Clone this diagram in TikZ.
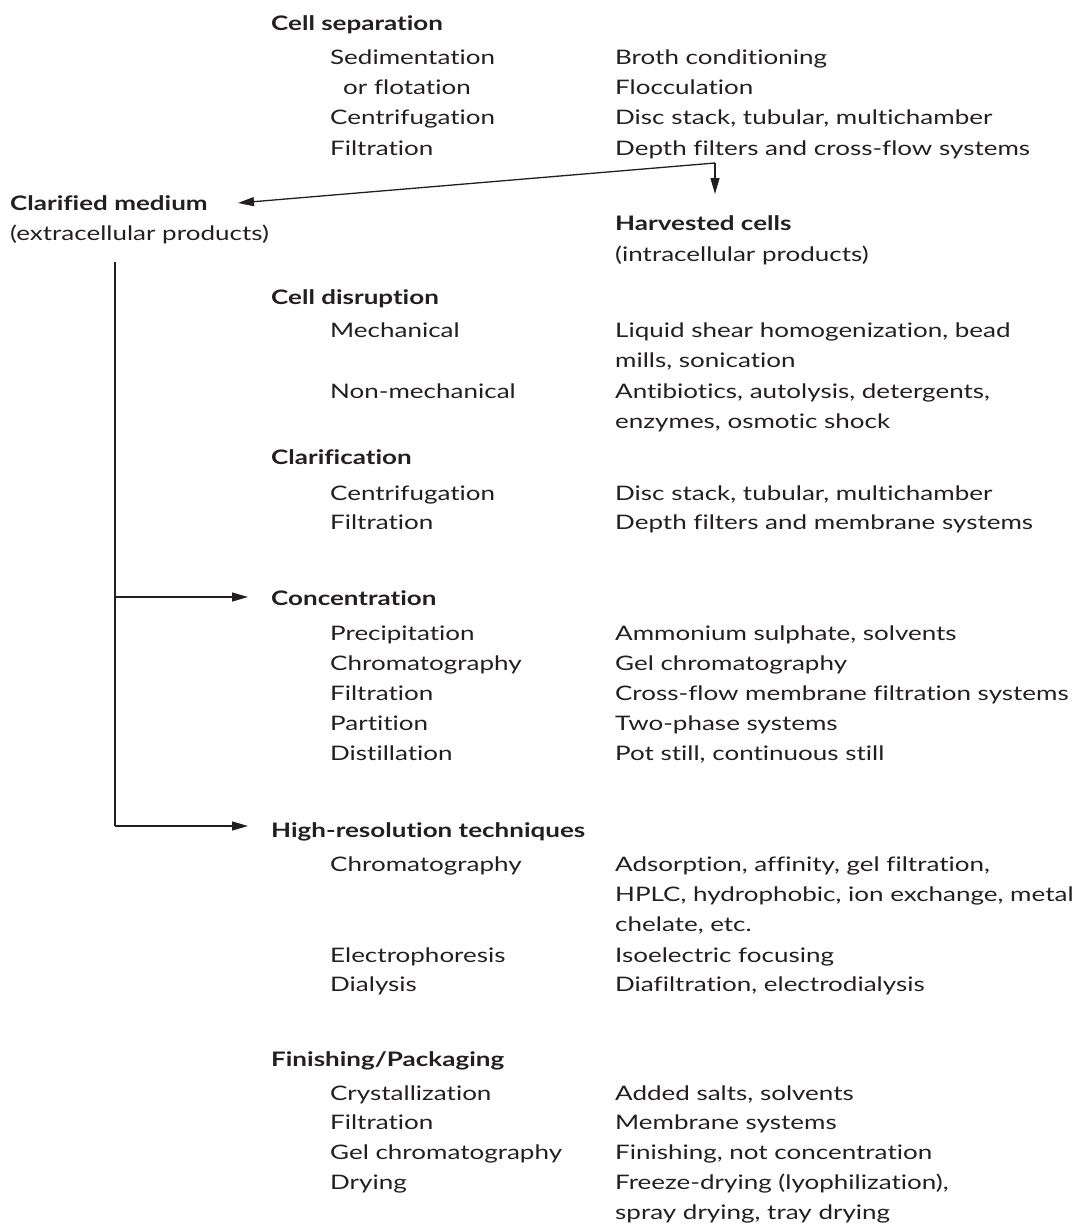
\documentclass[tikz,border=0pt]{standalone}
\usepackage{fontspec}
\setmainfont{Lato}[Ligatures=CommonOff,FakeStretch=1.3]
\usetikzlibrary{arrows.meta}
\definecolor{ink}{HTML}{231F20}
\begin{document}
\begin{tikzpicture}[x=1pt,y=-1pt,
  txt/.style={anchor=base west,inner sep=0pt,text=ink,font=\fontsize{20}{24}\selectfont},
  hd/.style={txt,font=\fontsize{20}{24}\selectfont\bfseries},
  arr/.style={draw=ink,line width=1.3pt,-{Triangle[length=16pt,width=9pt]}},
  ln/.style={draw=ink,line width=1.3pt}]
\useasboundingbox (0,0) rectangle (1084,1224);
% Cell separation
\node[hd] (cs) at (271,30) {Cell separation};
\node[txt] (cs1a) at (330,64) {Sedimentation};
\node[txt] (cs1b) at (343,94) {or flotation};
\node[txt] (cs2) at (330,124) {Centrifugation};
\node[txt] (cs3) at (330,155) {Filtration};
\node[txt] (cs1r) at (615,64) {Broth conditioning};
\node[txt] (cs1rb) at (615,94) {Flocculation};
\node[txt] (cs2r) at (615,124) {Disc stack, tubular, multichamber};
\node[txt] (cs3r) at (615,155) {Depth filters and cross-flow systems};
% outputs
\node[hd] (clm) at (10,210) {Clarified medium};
\node[txt] (clm2) at (10,240) {(extracellular products)};
\node[hd] (hc) at (615,230) {Harvested cells};
\node[txt] (hc2) at (615,261) {(intracellular products)};
% Cell disruption
\node[hd] (cd) at (271,304) {Cell disruption};
\node[txt] (cd1) at (330,337) {Mechanical};
\node[txt] (cd1r) at (615,337) {Liquid shear homogenization, bead};
\node[txt] (cd1rb) at (615,367) {mills, sonication};
\node[txt] (cd2) at (330,398) {Non-mechanical};
\node[txt] (cd2r) at (615,398) {Antibiotics, autolysis, detergents,};
\node[txt] (cd2rb) at (615,428) {enzymes, osmotic shock};
% Clarification
\node[hd] (cl) at (271,464) {Clarification};
\node[txt] (cl1) at (330,500) {Centrifugation};
\node[txt] (cl1r) at (615,500) {Disc stack, tubular, multichamber};
\node[txt] (cl2) at (330,529) {Filtration};
\node[txt] (cl2r) at (615,529) {Depth filters and membrane systems};
% Concentration
\node[hd] (co) at (271,605) {Concentration};
\node[txt] (co1) at (330,640) {Precipitation};
\node[txt] (co1r) at (615,640) {Ammonium sulphate, solvents};
\node[txt] (co2) at (330,670) {Chromatography};
\node[txt] (co2r) at (615,670) {Gel chromatography};
\node[txt] (co3) at (330,700) {Filtration};
\node[txt] (co3r) at (615,700) {Cross-flow membrane filtration systems};
\node[txt] (co4) at (330,730) {Partition};
\node[txt] (co4r) at (615,730) {Two-phase systems};
\node[txt] (co5) at (330,760) {Distillation};
\node[txt] (co5r) at (615,760) {Pot still, continuous still};
% High-resolution
\node[hd] (hr) at (271,837) {High-resolution techniques};
\node[txt] (hr1) at (330,871) {Chromatography};
\node[txt] (hr1r) at (615,871) {Adsorption, affinity, gel filtration,};
\node[txt] (hr1rb) at (615,901) {HPLC, hydrophobic, ion exchange, metal};
\node[txt] (hr1rc) at (615,931) {chelate, etc.};
\node[txt] (hr2) at (330,962) {Electrophoresis};
\node[txt] (hr2r) at (615,962) {Isoelectric focusing};
\node[txt] (hr3) at (330,991) {Dialysis};
\node[txt] (hr3r) at (615,991) {Diafiltration, electrodialysis};
% Finishing
\node[hd] (fp) at (271,1066) {Finishing/Packaging};
\node[txt] (fp1) at (330,1100) {Crystallization};
\node[txt] (fp1r) at (615,1100) {Added salts, solvents};
\node[txt] (fp2) at (330,1129) {Filtration};
\node[txt] (fp2r) at (615,1129) {Membrane systems};
\node[txt] (fp3) at (330,1159) {Gel chromatography};
\node[txt] (fp3r) at (615,1159) {Finishing, not concentration};
\node[txt] (fp4) at (330,1189) {Drying};
\node[txt] (fp4r) at (615,1189) {Freeze-drying (lyophilization),};
\node[txt] (fp4rb) at (615,1219) {spray drying, tray drying};
% connectors
\coordinate (J) at (715,163);
\coordinate (Jc) at (238,203);
\coordinate (Jh) at (715,194);
\coordinate (T) at (115,262);
\coordinate (B1) at (115,597);
\coordinate (B2) at (115,826);
\coordinate (E1) at (248,597);
\coordinate (E2) at (248,826);
\draw[arr] (J) -- (Jc);
\draw[arr] (J) -- (Jh);
\draw[ln] (T) -- (B2);
\draw[arr] (B1) -- (E1);
\draw[arr] (B2) -- (E2);
\end{tikzpicture}
\end{document}
